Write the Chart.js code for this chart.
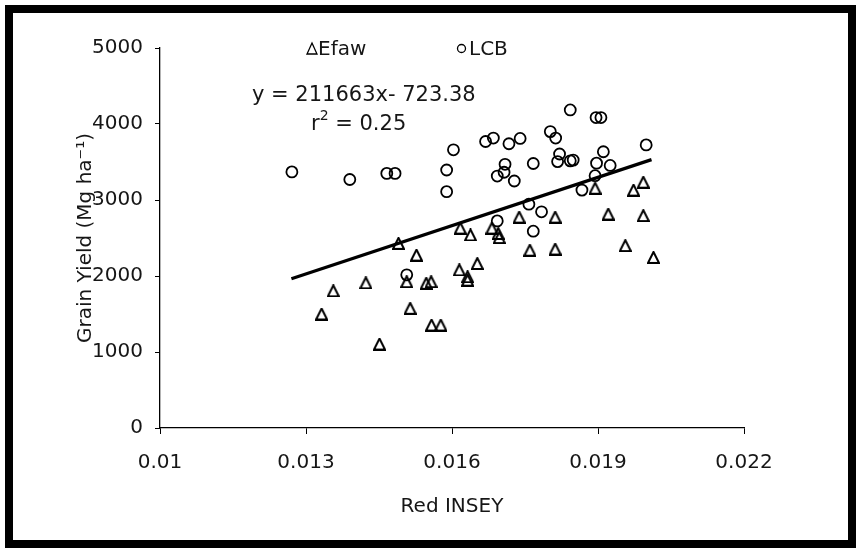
<!DOCTYPE html>
<html>
<head>
<meta charset="utf-8">
<script src="https://cdn.jsdelivr.net/npm/chart.js@4/dist/chart.umd.min.js"></script>
<style>
  html, body { margin: 0; padding: 0; background: #fff; }
  #wrap { position: relative; width: 859px; height: 550px; }
  #frame {
    position: absolute; left: 5px; top: 5px; width: 851px; height: 543px;
    border: 8px solid #000; box-sizing: border-box; pointer-events: none;
  }
  canvas { position: absolute; left: 0; top: 0; }
</style>
</head>
<body>
<div id="wrap">
  <canvas id="myChart" width="859" height="550"></canvas>
  <div id="frame"></div>
</div>
<script>
// Efaw plots (triangles)
const efawX = [0.01332, 0.01356, 0.01423, 0.0149, 0.01527, 0.01507, 0.01514, 0.01451,
  0.01547, 0.01557, 0.01558, 0.01577, 0.01617, 0.01615, 0.01632, 0.01632,
  0.01652, 0.01638, 0.01682, 0.01695, 0.01697, 0.01738, 0.01812, 0.0176,
  0.01812, 0.01921, 0.01993, 0.01956, 0.02014, 0.01973, 0.01993, 0.01894];
const efawY = [1500, 1805, 1910, 2430, 2275, 1925, 1575, 1105,
  1905, 1925, 1355, 1355, 2630, 2080, 1990, 1945,
  2165, 2540, 2630, 2560, 2505, 2775, 2775, 2340,
  2355, 2815, 2795, 2400, 2245, 3130, 3235, 3155];

// LCB plots (circles)
const lcbX = [0.01271, 0.0139, 0.01466, 0.01483, 0.01589, 0.01589, 0.01603, 0.01669,
  0.01685, 0.01717, 0.0174, 0.01709, 0.01693, 0.01707, 0.01728, 0.01767,
  0.01802, 0.01813, 0.01843, 0.01896, 0.01906, 0.01821, 0.01817, 0.01843,
  0.01849, 0.01911, 0.01897, 0.01925, 0.01894, 0.01867, 0.01999, 0.01784,
  0.01767, 0.01693, 0.01758, 0.01507];
const lcbY = [3370, 3270, 3350, 3350, 3395, 3110, 3660, 3770,
  3815, 3740, 3810, 3470, 3315, 3365, 3250, 3480,
  3900, 3815, 4185, 4085, 4085, 3605, 3505, 3515,
  3525, 3635, 3485, 3455, 3320, 3130, 3725, 2845,
  2590, 2725, 2945, 2015];

// linear fit over the pooled data
const slope = 211663;
const intercept = -723.38;
const r2 = 0.25;
const fitX = [0.0127, 0.0201];

const xTicks = [0.01, 0.013, 0.016, 0.019, 0.022];
const xTickLabels = ["0.01", "0.013", "0.016", "0.019", "0.022"];
const yTicks = [0, 1000, 2000, 3000, 4000, 5000];
const yTickLabels = ["0", "1000", "2000", "3000", "4000", "5000"];

const FONT = "DejaVu Sans";
const INK = "#161616";
Chart.defaults.font.family = FONT;

// hollow triangle marker
function triangleMarker(w, h, lw) {
  const c = document.createElement("canvas");
  c.width = w; c.height = h;
  const g = c.getContext("2d");
  g.strokeStyle = "#000";
  g.lineWidth = lw;
  g.lineJoin = "miter";
  g.beginPath();
  g.moveTo(w / 2, lw / 2);
  g.lineTo(w - lw / 2, h - lw / 2);
  g.lineTo(lw / 2, h - lw / 2);
  g.closePath();
  g.stroke();
  return c;
}
const tri = triangleMarker(13, 13, 2);

const annotate = {
  id: "annotate",
  afterDraw(chart) {
    const ctx = chart.ctx;
    ctx.save();
    ctx.fillStyle = INK;
    ctx.strokeStyle = "#000";
    ctx.textBaseline = "alphabetic";
    ctx.textAlign = "left";
    ctx.font = "20px '" + FONT + "'";

    // legend
    ctx.lineWidth = 1.3;
    ctx.beginPath();
    ctx.moveTo(312, 43);
    ctx.lineTo(317, 54);
    ctx.lineTo(307, 54);
    ctx.closePath();
    ctx.stroke();
    ctx.fillText("Efaw", 318, 55);

    ctx.beginPath();
    ctx.arc(461.5, 48.5, 4, 0, Math.PI * 2);
    ctx.stroke();
    ctx.fillText("LCB", 469, 55);

    // fit equation
    const big = "21px '" + FONT + "'";
    const small = "14px '" + FONT + "'";
    ctx.font = big;
    ctx.fillText("y = " + slope + "x- " + Math.abs(intercept).toFixed(2), 252, 101);

    let x = 311;
    ctx.fillText("r", x, 130);
    x += ctx.measureText("r").width;
    ctx.font = small;
    ctx.fillText("2", x, 120);
    x += ctx.measureText("2").width;
    ctx.font = big;
    ctx.fillText(" = " + r2.toFixed(2), x, 130);
    ctx.restore();
  },
};

const ctx = document.getElementById("myChart");

new Chart(ctx, {
  type: "scatter",
  data: {
    datasets: [
      {
        label: "Efaw",
        data: efawX.map((x, i) => ({ x, y: efawY[i] })),
        pointStyle: tri,
        pointRadius: 6,
      },
      {
        label: "LCB",
        data: lcbX.map((x, i) => ({ x, y: lcbY[i] })),
        pointStyle: "circle",
        pointRadius: 5.5,
        borderWidth: 1.8,
        borderColor: "#000",
        backgroundColor: "rgba(0,0,0,0)",
      },
      {
        type: "line",
        label: "fit",
        data: fitX.map((x) => ({ x, y: slope * x + intercept })),
        borderColor: "#000",
        borderWidth: 3.2,
        pointRadius: 0,
        fill: false,
      },
    ],
  },
  options: {
    responsive: false,
    animation: false,
    devicePixelRatio: 1,
    layout: {
      padding: { left: 0, right: 115, top: 48, bottom: 0 },
    },
    plugins: {
      legend: { display: false },
      tooltip: { enabled: false },
    },
    scales: {
      x: {
        type: "linear",
        min: 0.01,
        max: 0.022,
        afterFit: (s) => { s.height = 122; },
        afterBuildTicks: (s) => { s.ticks = xTicks.map((value) => ({ value })); },
        ticks: {
          color: INK,
          font: { size: 20 },
          padding: 17,
          maxRotation: 0,
          callback: (v, i) => xTickLabels[i],
        },
        grid: {
          drawOnChartArea: false,
          color: "#000",
          tickLength: 6,
        },
        border: { color: "#000", width: 1.3 },
        title: {
          display: true,
          text: "Red INSEY",
          color: INK,
          font: { size: 20 },
          padding: { top: 0, bottom: 31 },
        },
      },
      y: {
        min: 0,
        max: 5000,
        afterFit: (s) => { s.width = 160; },
        afterBuildTicks: (s) => { s.ticks = yTicks.map((value) => ({ value })); },
        ticks: {
          color: INK,
          font: { size: 20 },
          padding: 12,
          callback: (v, i) => yTickLabels[i],
        },
        grid: {
          drawOnChartArea: false,
          color: "#000",
          tickLength: 5,
        },
        border: { color: "#000", width: 1.3 },
        title: {
          display: true,
          text: "Grain Yield (Mg ha\u207B\u00B9)",
          color: INK,
          font: { size: 20 },
          padding: { top: 74, bottom: 0 },
        },
      },
    },
  },
  plugins: [annotate],
});
</script>
</body>
</html>
